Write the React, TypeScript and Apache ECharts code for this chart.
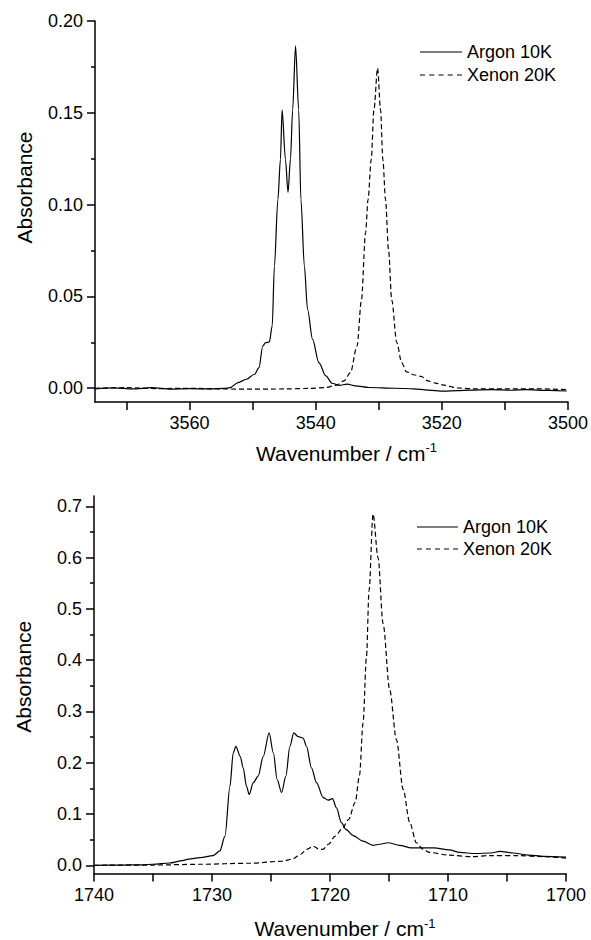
import React, { useEffect, useRef } from "react";
import * as echarts from "echarts";

// ---------- data ----------
const seriesNames = ["Argon 10K", "Xenon 20K"];

// Top panel (OH stretch region)
const topArgon: [number, number][] = [
  [3575, -0.0003], [3572, 0.0002], [3569, -0.0004], [3566, 0.0003], [3563, -0.0005],
  [3560, -0.0002], [3557, -0.0004], [3554.5, -0.0001], [3553.6, 0.0003], [3552.3, 0.0031],
  [3551.0, 0.0049], [3549.7, 0.0076], [3549.0, 0.0112], [3548.4, 0.023], [3547.95, 0.0248],
  [3547.35, 0.0252], [3546.9, 0.034], [3546.55, 0.0665], [3546.0, 0.1027], [3545.6, 0.1245],
  [3545.33, 0.1516], [3544.8, 0.1245], [3544.39, 0.1067], [3544.0, 0.125], [3543.66, 0.1516],
  [3543.2, 0.1864], [3542.7, 0.1516], [3542.35, 0.1027], [3541.8, 0.0665], [3541.3, 0.043],
  [3540.5, 0.0266], [3539.5, 0.0139], [3538.4, 0.0067], [3537.4, 0.0027], [3536.3, 0.0016],
  [3535.0, 0.0022], [3533.7, 0.0013], [3531.6, 0.0004], [3527.4, 0.0], [3524.5, -0.0003],
  [3522.2, -0.001], [3519.7, -0.0016], [3517.5, -0.0013], [3515.6, -0.001], [3512, -0.0008],
  [3509, -0.0011], [3506.7, -0.0008], [3503, -0.0012], [3500.2, -0.0015],
];
const topXenon: [number, number][] = [
  [3575, 0.0], [3570, 0.0003], [3565, -0.0002], [3560, 0.0], [3555, -0.0004], [3550, -0.0005],
  [3545, -0.0004], [3541, -0.0001], [3538.4, 0.0004], [3536.8, 0.0016], [3535.5, 0.004],
  [3534.5, 0.0085], [3533.45, 0.023], [3532.75, 0.048], [3532.1, 0.0846], [3531.7, 0.1027],
  [3531.2, 0.1245], [3530.77, 0.1516], [3530.19, 0.1743], [3529.72, 0.1516], [3529.35, 0.1245],
  [3528.93, 0.1027], [3528.46, 0.0755], [3527.94, 0.048], [3527.15, 0.0248], [3526.37, 0.0139],
  [3525.6, 0.0089], [3524.3, 0.0072], [3523.3, 0.0065], [3522.2, 0.004], [3521.0, 0.0028],
  [3519.7, 0.0017], [3517.6, 0.0002], [3515, -0.0003], [3510, -0.0004], [3505, -0.0003],
  [3500.2, -0.0008],
];

// Bottom panel (C=O stretch region)
const botArgon: [number, number][] = [
  [1740, 0.0], [1738, 0.0003], [1736, 0.001], [1735, 0.002], [1733.6, 0.0045], [1732.5, 0.009],
  [1732, 0.012], [1731, 0.015], [1729.9, 0.019], [1729.33, 0.028], [1728.9, 0.057],
  [1728.48, 0.154], [1728.2, 0.219], [1727.98, 0.232], [1727.6, 0.212], [1727.36, 0.19],
  [1727.07, 0.154], [1726.85, 0.138], [1726.5, 0.161], [1726.09, 0.174], [1725.66, 0.212],
  [1725.16, 0.258], [1724.8, 0.219], [1724.48, 0.167], [1724.1, 0.142], [1723.74, 0.174],
  [1723.4, 0.232], [1723.07, 0.258], [1722.7, 0.251], [1722.28, 0.248], [1721.99, 0.232],
  [1721.57, 0.19], [1721.14, 0.161], [1720.58, 0.132], [1720.16, 0.127], [1719.79, 0.13],
  [1719.45, 0.112], [1719.03, 0.083], [1718.66, 0.07], [1718.04, 0.058], [1717.2, 0.047],
  [1716.35, 0.039], [1715.78, 0.041], [1715.08, 0.044], [1714.1, 0.039], [1713.1, 0.034],
  [1712.1, 0.034], [1711.2, 0.034], [1709.9, 0.03], [1709, 0.025], [1707.7, 0.023],
  [1706.4, 0.024], [1705.6, 0.027], [1704.5, 0.024], [1703.2, 0.02], [1701.9, 0.0175],
  [1700, 0.016],
];
const botXenon: [number, number][] = [
  [1740, 0.0], [1735, 0.0005], [1731, 0.002], [1726.8, 0.004], [1724, 0.008], [1723.2, 0.012],
  [1722.5, 0.021], [1721.97, 0.031], [1721.4, 0.037], [1720.98, 0.032], [1720.6, 0.031],
  [1720.13, 0.041], [1719.56, 0.057], [1719.0, 0.07], [1718.43, 0.089], [1717.87, 0.122],
  [1717.5, 0.175], [1717.2, 0.277], [1716.91, 0.406], [1716.69, 0.536], [1716.35, 0.685],
  [1715.93, 0.6], [1715.5, 0.471], [1714.94, 0.342], [1714.37, 0.245], [1713.8, 0.148],
  [1713.24, 0.083], [1712.68, 0.044], [1712.1, 0.031], [1711.55, 0.025], [1710, 0.02],
  [1708, 0.017], [1706.4, 0.019], [1704, 0.019], [1702, 0.017], [1700, 0.014],
];

// ticks
const topXLabels = [3500, 3520, 3540, 3560];
const topXTicks = [3500, 3510, 3520, 3530, 3540, 3550, 3560, 3570];
const topYLabels = [0, 0.05, 0.1, 0.15, 0.2];
const topYMinor = [0.025, 0.075, 0.125, 0.175];
const botXLabels = [1700, 1710, 1720, 1730, 1740];
const botXTicks = [1700, 1705, 1710, 1715, 1720, 1725, 1730, 1735, 1740];
const botYLabels = [0, 0.1, 0.2, 0.3, 0.4, 0.5, 0.6, 0.7];
const botYMinor = [0.05, 0.15, 0.25, 0.35, 0.45, 0.55, 0.65];

const FONT = "'Liberation Sans', Arial, Helvetica, sans-serif";

// legend sample icons (solid line / dashed line)
const ICON_SOLID = "path://M0,0H42V1.2H0Z";
const ICON_DASH =
  "path://M0,0H5V1.2H0Z M9.25,0H14.25V1.2H9.25Z M18.5,0H23.5V1.2H18.5Z M27.75,0H32.75V1.2H27.75Z M37,0H42V1.2H37Z";

export default function App() {
  const ref = useRef<HTMLDivElement>(null);
  useEffect(() => {
    if (!ref.current) return;
    const chart = echarts.init(ref.current, undefined, { renderer: "svg" });

    const axisLine = { show: true, onZero: false, lineStyle: { color: "#000", width: 1.5 } };
    const xName = (pad: number) => ({
      name: "{a|Wavenumber / cm}{b|-1}",
      nameLocation: "middle" as const,
      nameGap: pad,
      nameTextStyle: {
        padding: [0, 0, 0, 30],
        rich: {
          a: { fontSize: 21, fontFamily: FONT, color: "#000", lineHeight: 24 },
          b: { fontSize: 13, fontFamily: FONT, color: "#000", verticalAlign: "top", lineHeight: 12 },
        },
      },
    });
    const xAxis = (grid: number, min: number, max: number, labels: number[], ticks: number[], gap: number) => ({
      type: "value",
      gridIndex: grid,
      min,
      max,
      inverse: true,
      axisLine,
      splitLine: { show: false },
      axisTick: { show: true, customValues: ticks, length: 8, lineStyle: { color: "#000", width: 1.5 } },
      axisLabel: {
        customValues: labels,
        fontSize: 18,
        fontFamily: FONT,
        color: "#000",
        margin: 12,
        formatter: (v: number) => String(v),
      },
      ...xName(gap),
    });
    const yMain = (grid: number, min: number, max: number, labels: number[], digits: number, pad: number) => ({
      type: "value",
      gridIndex: grid,
      min,
      max,
      axisLine,
      splitLine: { show: false },
      axisTick: { show: true, customValues: labels, length: 8, lineStyle: { color: "#000", width: 1.5 } },
      axisLabel: {
        customValues: labels,
        fontSize: 18,
        fontFamily: FONT,
        color: "#000",
        margin: 12,
        formatter: (v: number) => v.toFixed(digits),
      },
      name: "Absorbance",
      nameLocation: "middle",
      nameGap: 60,
      nameTextStyle: { fontSize: 21, fontFamily: FONT, color: "#000", padding: [0, 0, 0, pad] },
    });
    const yMinor = (grid: number, min: number, max: number, ticks: number[]) => ({
      type: "value",
      gridIndex: grid,
      min,
      max,
      position: "left",
      axisLine: { show: false },
      splitLine: { show: false },
      axisTick: { show: true, customValues: ticks, length: 4, lineStyle: { color: "#000", width: 1.5 } },
      axisLabel: { show: false },
    });
    const solid = { color: "#000", width: 1.2, type: "solid" };
    const dashed = { color: "#000", width: 1.2, type: [5, 3] };
    const line = (name: string, data: [number, number][], axis: number, ls: any) => ({
      type: "line",
      name,
      data,
      xAxisIndex: axis,
      yAxisIndex: axis * 2,
      symbol: "none",
      smooth: 0.3,
      smoothMonotone: "x",
      lineStyle: ls,
      itemStyle: { color: "#000" },
      z: ls === solid ? 3 : 2,
    });
    const legend = (left: number, top: number, w: number, gap: number) => ({
      orient: "vertical",
      left,
      top,
      padding: 0,
      itemWidth: w,
      itemHeight: 1.4,
      itemGap: gap,
      selectedMode: false,
      data: [
        { name: seriesNames[0], icon: ICON_SOLID },
        { name: seriesNames[1], icon: ICON_DASH },
      ],
      itemStyle: { color: "#000", borderWidth: 0 },
      lineStyle: { width: 0 },
      textStyle: { fontSize: 18, fontFamily: FONT, color: "#000", lineHeight: 20 },
    });

    chart.setOption({
      animation: false,
      backgroundColor: "#fff",
      grid: [
        { left: 95, top: 21, width: 475, height: 381 },
        { left: 94, top: 496, width: 472, height: 379 },
      ],
      legend: [legend(420, 42, 42, 3), legend(417, 517, 41, 2)],
      xAxis: [
        xAxis(0, 3500, 3575, topXLabels, topXTicks, 39),
        xAxis(1, 1700, 1740, botXLabels, botXTicks, 43),
      ],
      yAxis: [
        yMain(0, -0.0075, 0.2, topYLabels, 2, 48),
        yMinor(0, -0.0075, 0.2, topYMinor),
        yMain(1, -0.016, 0.72, botYLabels, 1, 16),
        yMinor(1, -0.016, 0.72, botYMinor),
      ],
      series: [
        line(seriesNames[0], topArgon, 0, solid),
        line(seriesNames[1], topXenon, 0, dashed),
        line(seriesNames[0], botArgon, 1, solid),
        line(seriesNames[1], botXenon, 1, dashed),
      ],
    });
    return () => chart.dispose();
  }, []);
  return (
    <div
      ref={ref}
      style={{ position: "fixed", left: 0, top: 0, width: 591, height: 940, background: "#fff" }}
    />
  );
}
